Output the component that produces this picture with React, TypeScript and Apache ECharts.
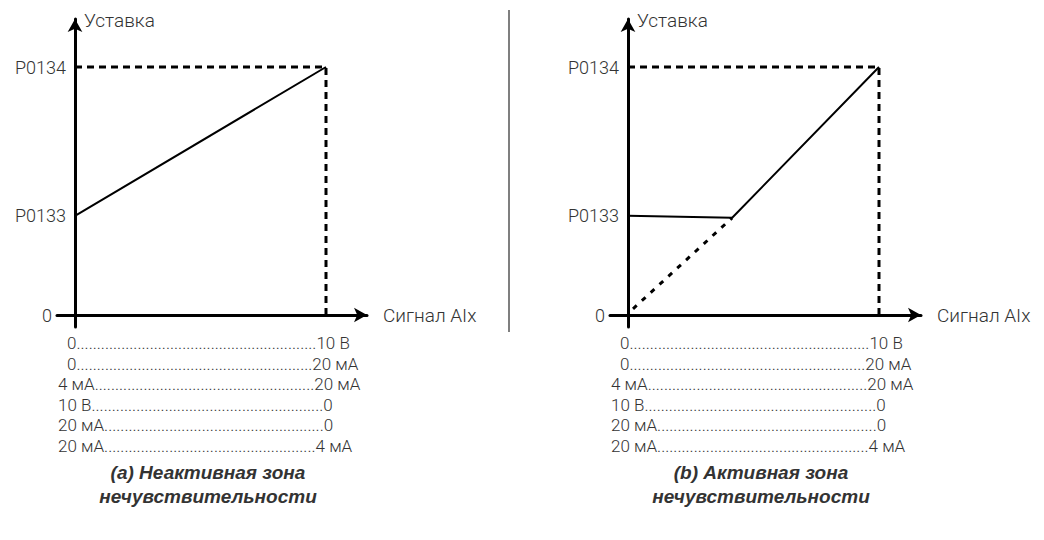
import React, { useEffect, useRef } from 'react';
import * as echarts from 'echarts';

// ---- data ----
const yTickValues = [0, 4, 10];
const yTickLabels = ['0', 'P0133', 'P0134'];
const xAxisName = 'Сигнал AIx';
const yAxisName = 'Уставка';
const guideLine: [number, number][] = [[0, 10], [10, 10], [10, 0]];
const inactiveLine: [number, number][] = [[0, 4], [10, 10]];
const activeLine: [number, number][] = [[0, 4], [4.15, 3.92], [10, 10]];
const activeDotted: [number, number][] = [[0.2, 0.25], [4.15, 3.92]];
const rangeLeft = ['0', '0', '4 мА', '10 В', '20 мА', '20 мА'];
const rangeRight = ['10 В', '20 мА', '20 мА', '0', '0', '4 мА'];
const captionA = ['(a) Неактивная зона', 'нечувствительности'];
const captionB = ['(b) Активная зона', 'нечувствительности'];

// ---- layout ----
const W = 1044;
const H = 540;
const PX_X = 25.1;
const PX_Y = 24.8;
const GRID_TOP = 19;
const GRID_BOTTOM = 327;
const ZERO_Y = 315;
const panels = [
  { axisX: 75, left: 57, right: 367, caption: captionA },
  { axisX: 628, left: 610, right: 921, caption: captionB },
];
const rowEndOffsets = [277, 285, 287, 258, 259, 281];
const ROW_Y0 = 343;
const ROW_STEP = 20.6;
const CAPTION_Y = [472, 496];
const TEXT_COLOR = '#333';
const FONT_FAMILY = 'Roboto';
const FONT_WEIGHT = 300;
const FONT_SIZE = 19;
const TICK_FONT_SIZE = 18;
const ROW_FONT_SIZE = 17;

function measure(text: string, font: string): number {
  const c = document.createElement('canvas').getContext('2d');
  if (!c) return text.length * 9;
  c.font = font;
  return c.measureText(text).width;
}

export default function App() {
  const ref = useRef<HTMLDivElement>(null);
  useEffect(() => {
    if (!ref.current) return;
    const chart = echarts.init(ref.current, undefined, { renderer: 'svg' });
    const font = `${FONT_WEIGHT} ${ROW_FONT_SIZE}px ${FONT_FAMILY}`;
    const dotW = measure('.', font);

    const grids: any[] = [];
    const xAxes: any[] = [];
    const yAxes: any[] = [];
    const series: any[] = [];
    const graphics: any[] = [];

    panels.forEach((p, i) => {
      grids.push({
        left: p.left, top: GRID_TOP, width: p.right - p.left, height: GRID_BOTTOM - GRID_TOP,
        containLabel: false, outerBoundsMode: 'none',
      });
      const axisLine = {
        onZero: true,
        symbol: ['none', 'arrow'],
        symbolSize: [11, 13],
        lineStyle: { color: '#000', width: 3 },
      };
      xAxes.push({
        type: 'value', gridIndex: i,
        min: -(p.axisX - p.left) / PX_X,
        max: (p.right - p.axisX) / PX_X,
        axisLine,
        axisTick: { show: false },
        axisLabel: { show: false },
        splitLine: { show: false },
        name: xAxisName,
        nameLocation: 'end',
        nameGap: 16,
        nameTextStyle: { color: TEXT_COLOR, fontSize: FONT_SIZE, fontFamily: FONT_FAMILY, fontWeight: FONT_WEIGHT },
      });
      yAxes.push({
        type: 'value', gridIndex: i,
        min: -(GRID_BOTTOM - ZERO_Y) / PX_Y,
        max: (ZERO_Y - GRID_TOP) / PX_Y,
        axisLine,
        axisTick: { show: false },
        splitLine: { show: false },
        axisLabel: { show: false },
        name: yAxisName,
        nameLocation: 'end',
        nameGap: -1,
        nameTextStyle: {
          color: TEXT_COLOR, fontSize: FONT_SIZE, fontFamily: FONT_FAMILY, fontWeight: FONT_WEIGHT,
          align: 'left', verticalAlign: 'middle', padding: [0, 0, 0, 9],
        },
      });

      series.push({
        type: 'line', xAxisIndex: i, yAxisIndex: i, data: guideLine, symbol: 'none',
        lineStyle: { color: '#000', width: 3, type: [7, 5] }, silent: true,
      });
      if (i === 0) {
        series.push({
          type: 'line', xAxisIndex: i, yAxisIndex: i, data: inactiveLine, symbol: 'none',
          lineStyle: { color: '#000', width: 2 },
        });
      } else {
        series.push({
          type: 'line', xAxisIndex: i, yAxisIndex: i, data: activeLine, symbol: 'none',
          lineStyle: { color: '#000', width: 2 },
        });
        series.push({
          type: 'line', xAxisIndex: i, yAxisIndex: i, data: activeDotted, symbol: 'none',
          lineStyle: { color: '#000', width: 3, type: [5, 7] },
        });
      }

      rangeLeft.forEach((l, r) => {
        const startX = p.axisX + (l === '0' ? -8 : -17);
        const endX = p.axisX + rowEndOffsets[r];
        const rt = rangeRight[r];
        const gap = endX - startX - measure(l, font) - measure(rt, font);
        const n = Math.max(1, Math.floor(gap / dotW));
        graphics.push({
          type: 'text', x: startX, y: ROW_Y0 + r * ROW_STEP,
          style: {
            text: l + '.'.repeat(n) + rt,
            fill: TEXT_COLOR, fontSize: ROW_FONT_SIZE, fontFamily: FONT_FAMILY, fontWeight: FONT_WEIGHT,
            align: 'left', verticalAlign: 'middle', textAlign: 'left', textVerticalAlign: 'middle',
          },
        });
      });
      p.caption.forEach((c, k) => {
        graphics.push({
          type: 'text', x: p.axisX + 133, y: CAPTION_Y[k],
          style: {
            text: c, fill: '#333', fontSize: 19, fontFamily: 'Liberation Sans',
            fontWeight: 'bold', fontStyle: 'italic',
            align: 'center', verticalAlign: 'middle', textAlign: 'center', textVerticalAlign: 'middle',
          },
        });
      });
    });

    graphics.push({
      type: 'line', shape: { x1: 509, y1: 10, x2: 509, y2: 332 },
      style: { stroke: '#555', lineWidth: 1.5 },
    });

    chart.setOption({
      animation: false,
      backgroundColor: '#fff',
      grid: grids,
      xAxis: xAxes,
      yAxis: yAxes,
      series,
      graphic: graphics,
    });

    // y tick labels placed through the axes' own scales
    const tickTexts: any[] = [];
    panels.forEach((_p, i) => {
      yTickValues.forEach((v, k) => {
        const pt = chart.convertToPixel({ gridIndex: i }, [0, v]) as number[];
        if (!pt) return;
        const gapPx = v === 0 ? 23 : 9;
        tickTexts.push({
          type: 'text', x: pt[0] - gapPx, y: pt[1],
          style: {
            text: yTickLabels[k],
            fill: TEXT_COLOR, fontSize: TICK_FONT_SIZE, fontFamily: FONT_FAMILY, fontWeight: FONT_WEIGHT,
            align: 'right', verticalAlign: 'middle', textAlign: 'right', textVerticalAlign: 'middle',
          },
        });
      });
    });
    chart.setOption({ graphic: graphics.concat(tickTexts) });

    return () => chart.dispose();
  }, []);
  return <div ref={ref} style={{ position: 'fixed', left: 0, top: 0, width: W, height: H }} />;
}
